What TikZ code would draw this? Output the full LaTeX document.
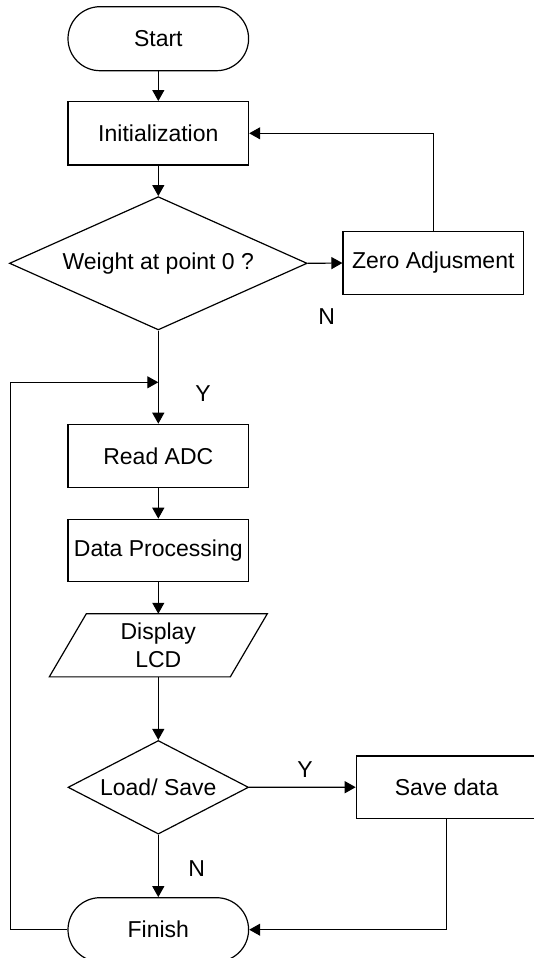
\documentclass[tikz,border=0pt]{standalone}
\usepackage{fontspec}
\setmainfont{Liberation Sans}
\usetikzlibrary{shapes.geometric,arrows.meta}
\begin{document}
\begin{tikzpicture}[x=1pt,y=-1pt,
  every node/.style={font=\fontsize{23}{27.5}\selectfont, inner sep=0pt},
  box/.style={draw, line width=1.2pt, minimum width=180.6pt, minimum height=63pt},
  term/.style={box, rounded corners=32pt, minimum height=64pt},
  dec/.style={draw, line width=1.2pt, diamond, inner sep=0pt},
  arr/.style={line width=1.2pt, -{Triangle[length=11pt,width=12pt]}},
  conn/.style={line width=1.2pt},
  lbl/.style={}]
\useasboundingbox (0,0) rectangle (534,958);
% nodes
\node[term] (start) at (158.3,38.7) {Start};
\node[box, minimum height=63.3pt] (init) at (158.3,133.3) {Initialization};
\node[dec, aspect=2.23, minimum width=297.7pt, minimum height=133.3pt] (d1) at (158.3,263.3) {Weight at point 0 ?};
\node[box, minimum height=62.6pt] (zero) at (433.3,263) {Zero Adjusment};
\node[box] (read) at (158.3,455.8) {Read ADC};
\node[box, minimum height=62.4pt] (proc) at (158.3,550.5) {Data Processing};
\node[minimum width=180.6pt, minimum height=62.7pt, align=center] (disp) at (158.3,645.3) {Display\\LCD};
\draw[line width=1.2pt] ([xshift=-18.5pt]disp.south west) -- ([xshift=-18.5pt]disp.south east)
  -- ([xshift=18.5pt]disp.north east) -- ([xshift=18.5pt]disp.north west) -- cycle;
\node[dec, aspect=1.93, minimum width=180.6pt, minimum height=93.6pt] (d2) at (158.3,787.3) {Load/ Save};
\node[box, minimum height=62.3pt] (save) at (446.6,787.2) {Save data};
\node[term] (finish) at (158.3,929.7) {Finish};
% labels
\node[lbl] (n1) at (326.7,316.7) {N};
\node[lbl] (y1) at (203,393.3) {Y};
\node[lbl] (y2) at (305,770) {Y};
\node[lbl] (n2) at (196.7,868.3) {N};
\coordinate (j) at (158.3,382.3);
% connectors
\draw[arr] (start) -- (init);
\draw[arr] (init) -- (d1);
\draw[arr] (d1.east) -- (zero.west);
\draw[arr] (zero.north) |- (init.east);
\draw[arr] (d1.south) -- (read.north);
\draw[arr] (finish.west) -- ++(-57.3,0) |- (j);
\draw[arr] (read) -- (proc);
\draw[arr] (proc.south) -- (disp.north);
\draw[arr] (disp.south) -- (d2.north);
\draw[arr] (d2.east) -- (save.west);
\draw[arr] (d2.south) -- (finish.north);
\draw[arr] (save.south) |- (finish.east);
\end{tikzpicture}
\end{document}
